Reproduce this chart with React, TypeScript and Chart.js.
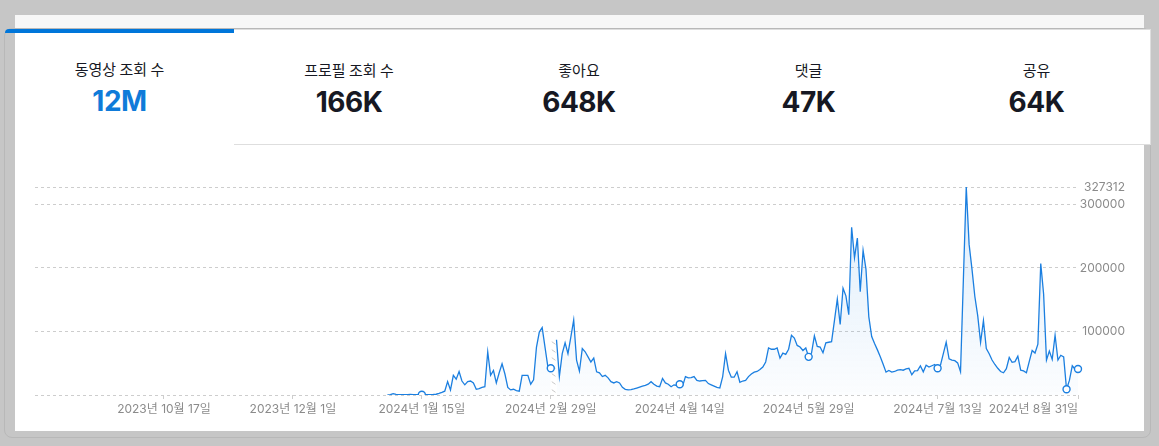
import React, { useEffect, useRef } from 'react';
import { Chart, registerables } from 'chart.js';

Chart.register(...registerables);

// ---------- data ----------
const startDate = [2023, 9, 2]; // first day on the x axis
const dayCount = 365; // 2023-09-02 .. 2024-08-31
const daysWithoutData = 123; // before 2024-01-03 there is no series

// daily video views, 2024-01-03 .. 2024-08-31 (null = missing day)
const observedViews: (number | null)[] = [
  0, 500, 2000, 1000, 600, 700, 500,
  600, 800, 700, 600, 500, 500, 600, 500, 700, 800,
  1200, 2500, 4000, 6000, 21000, 8000, 31000, 25000, 37000, 22000,
  16000, 21000, 22000, 19000, 9000, 10000, 12000, 13000, 68000, 31000,
  38500, 19000, 35000, 49000, 33000, 12000, 8000, 9000, 7000, 6000,
  31000, 31000, 31000, 17000, 24000, 75000, 99000, 106000, 75000, 44000,
  42000, null, 87000, 29000, 65000, 82000, 65000, 91000, 118000, 55000,
  37500, 73000, 68000, 60000, 52000, 58000, 36500, 35000, 29000, 31000,
  27000, 21000, 19000, 21000, 19000, 12000, 9000, 8000, 8500, 9500,
  11000, 12500, 14000, 15000, 17000, 21000, 17000, 14000, 13000, 26000,
  19000, 17000, 13000, 16000, 15000, 17000, 14000, 29000, 27000, 27500,
  29000, 23000, 22000, 22500, 23000, 18000, 16000, 14000, 12000, 11000,
  29000, 65000, 39000, 28000, 28000, 36500, 20000, 22000, 23000, 29000,
  33000, 36000, 37000, 40000, 44000, 52000, 74000, 72000, 72000, 74000,
  58000, 66000, 64000, 72000, 94000, 89500, 78000, 75500, 70000, 74000,
  60000, 66000, 93000, 76500, 75500, 66500, 82000, 83000, 84000, 117000,
  151000, 111000, 168000, 156000, 126500, 264000, 216000, 247000, 162500, 227500,
  198000, 123000, 92000, 81000, 71000, 60000, 48500, 36000, 38500, 36000,
  37000, 39000, 40000, 39000, 41000, 42000, 32000, 38000, 38500, 46000,
  36500, 47000, 44000, 46000, 48000, 42000, 47000, 65000, 83000, 57000,
  55000, 54000, 50500, 36500, 182000, 327312, 237000, 198000, 155000, 125000,
  83000, 117000, 73000, 65000, 55000, 48000, 42000, 37000, 35000, 41500,
  59000, 51500, 52500, 61000, 39000, 38000, 35000, 53000, 70000, 66000,
  80000, 207000, 159000, 55000, 69000, 56000, 94000, 55000, 62500, 60000,
  9000, 23000, 46000, 40500, 41000,
];

const tabTitles = ['동영상 조회 수', '프로필 조회 수', '좋아요', '댓글', '공유'];
const tabValues = ['12M', '166K', '648K', '47K', '64K'];
const yTickValues = [0, 100000, 200000, 300000];
const tickEveryDays = 45;

// ---------- helpers ----------
function buildDateLabels(): string[] {
  const out: string[] = [];
  const d0 = new Date(startDate[0], startDate[1] - 1, startDate[2]);
  for (let i = 0; i < dayCount; i++) {
    const d = new Date(d0.getFullYear(), d0.getMonth(), d0.getDate() + i);
    out.push(`${d.getFullYear()}년 ${d.getMonth() + 1}월 ${d.getDate()}일`);
  }
  return out;
}

const dateLabels = buildDateLabels();
const views: (number | null)[] = [
  ...new Array(daysWithoutData).fill(null),
  ...observedViews,
];
const maxViews = Math.max(...(views.filter((v) => v != null) as number[]));

const LINE = '#1b7fe0';
const GRID = '#cdcdcd';
const TICK_TEXT = '#8b8b8b';
const FONT = "Inter, 'Noto Sans CJK KR', sans-serif";

const gapHatch = {
  id: 'gapHatch',
  beforeDatasetsDraw(chart: any) {
    const data = chart.data.datasets[0].data as (number | null)[];
    const xs = chart.scales.x;
    const ys = chart.scales.y;
    const ctx = chart.ctx as CanvasRenderingContext2D;
    for (let i = 1; i < data.length - 1; i++) {
      const a = data[i - 1];
      const b = data[i + 1];
      if (data[i] == null && a != null && b != null) {
        const x0 = xs.getPixelForValue(i - 1);
        const x1 = xs.getPixelForValue(i + 1);
        const top = ys.getPixelForValue(Math.max(a, b));
        const bottom = ys.getPixelForValue(0);
        ctx.save();
        ctx.beginPath();
        ctx.rect(x0 + 1, top, x1 - x0 - 2, bottom - top);
        ctx.clip();
        ctx.strokeStyle = '#c9c9c9';
        ctx.lineWidth = 1;
        for (let yy = bottom; yy > top - 8; yy -= 8) {
          ctx.beginPath();
          ctx.moveTo(x0, yy - 6);
          ctx.lineTo(x1, yy - 2);
          ctx.stroke();
        }
        ctx.restore();
      }
    }
  },
};

function isMarker(i: number): boolean {
  if (views[i] == null) return false;
  return i % tickEveryDays === 0 || i === views.length - 1;
}

function ViewsChart() {
  const ref = useRef<HTMLCanvasElement | null>(null);
  useEffect(() => {
    if (!ref.current) return;
    const last = dateLabels.length - 1;
    const chart = new Chart(ref.current, {
      type: 'line',
      data: {
        labels: dateLabels,
        datasets: [
          {
            data: views,
            borderColor: LINE,
            borderWidth: 1.3,
            tension: 0,
            spanGaps: false,
            fill: 'origin',
            backgroundColor: (c: any) => {
              const area = c.chart.chartArea;
              if (!area) return 'rgba(27,127,224,0.06)';
              const g = c.chart.ctx.createLinearGradient(0, area.top, 0, area.bottom);
              g.addColorStop(0, 'rgba(27,127,224,0.15)');
              g.addColorStop(1, 'rgba(27,127,224,0.015)');
              return g;
            },
            pointRadius: (c: any) => (isMarker(c.dataIndex) ? 3.5 : 0),
            pointHoverRadius: 0,
            pointBackgroundColor: '#ffffff',
            pointBorderColor: LINE,
            pointBorderWidth: 1.4,
          },
        ],
      },
      options: {
        animation: false,
        responsive: false,
        maintainAspectRatio: false,
        events: [],
        layout: { padding: { left: 20, right: 19, top: 37, bottom: 0 } },
        plugins: { legend: { display: false }, tooltip: { enabled: false } },
        scales: {
          x: {
            type: 'category',
            offset: false,
            grid: {
              drawOnChartArea: false,
              drawTicks: true,
              tickLength: 4,
              color: (c: any) => (c.index === 0 ? 'rgba(0,0,0,0)' : GRID),
            },
            border: { display: false },
            ticks: {
              autoSkip: false,
              maxRotation: 0,
              minRotation: 0,
              align: 'inner',
              padding: 3,
              color: TICK_TEXT,
              font: { family: FONT, size: 12 },
              callback: function (this: any, value: any) {
                return value === 0 ? '' : this.getLabelForValue(value);
              },
            },
            afterBuildTicks: (scale: any) => {
              const idx: number[] = [0];
              for (let i = tickEveryDays; i < last - 10; i += tickEveryDays) idx.push(i);
              idx.push(last);
              scale.ticks = idx.map((v) => ({ value: v }));
            },
            afterFit: (scale: any) => {
              scale.height = 30;
            },
          },
          y: {
            position: 'right',
            min: 0,
            max: maxViews,
            grid: { drawTicks: false, color: GRID, lineWidth: 1 },
            border: { display: false, dash: [3, 3] },
            ticks: {
              crossAlign: 'far',
              padding: 2,
              color: TICK_TEXT,
              font: { family: FONT, size: 12 },
              callback: (value: any) => (value === 0 ? '' : String(value)),
            },
            afterBuildTicks: (scale: any) => {
              scale.ticks = [...yTickValues, maxViews].map((v) => ({ value: v }));
            },
            afterFit: (scale: any) => {
              scale.width = 47;
            },
          },
        },
      } as any,
      plugins: [gapHatch],
    });
    return () => chart.destroy();
  }, []);
  return (
    <canvas
      ref={ref}
      width={1129}
      height={275}
      style={{ position: 'absolute', left: 15, top: 150, width: 1129, height: 275 }}
    />
  );
}

const tabEdges = [5, 234, 464, 694, 923, 1150];

export default function App() {
  useEffect(() => {
    document.body.style.margin = '0';
  }, []);
  return (
    <div
      style={{
        position: 'fixed',
        left: 0,
        top: 0,
        width: 1159,
        height: 446,
        background: '#c6c6c6',
        overflow: 'hidden',
        fontFamily: "'Noto Sans CJK KR', sans-serif",
      }}
    >
      {/* page panel */}
      <div style={{ position: 'absolute', left: 15, top: 15, width: 1129, height: 416, background: '#ffffff' }} />
      <div style={{ position: 'absolute', left: 15, top: 15, width: 1129, height: 14, background: '#f7f7f7' }} />
      {/* card outline */}
      <div
        style={{
          position: 'absolute',
          left: 4,
          top: 28,
          width: 1147,
          height: 410,
          border: '1px solid #b8b8b8',
          borderRadius: 8,
          boxSizing: 'border-box',
        }}
      />
      {/* tabs */}
      {tabTitles.map((t, i) => {
        const left = tabEdges[i];
        const width = tabEdges[i + 1] - tabEdges[i];
        const active = i === 0;
        return (
          <div
            key={t}
            style={{
              position: 'absolute',
              left,
              top: 29,
              width: width + 1,
              height: 116,
              boxSizing: 'border-box',
              background: active ? 'transparent' : '#ffffff',
              borderRight: '1px solid #dedede',
              borderTop: active ? 'none' : '1px solid #dedede',
              borderBottom: active ? 'none' : '1px solid #dedede',
            }}
          >
            {active && (
              <div
                style={{
                  position: 'absolute',
                  left: 0,
                  top: 0,
                  width: width,
                  height: 4,
                  background: '#0076da',
                  borderTopLeftRadius: 6,
                }}
              />
            )}
            <div
              style={{
                position: 'absolute',
                left: 0,
                right: 0,
                top: 30,
                textAlign: 'center',
                fontSize: 15,
                lineHeight: '20px',
                color: '#161823',
              }}
            >
              {t}
            </div>
            <div
              style={{
                position: 'absolute',
                left: 0,
                right: 0,
                top: 56,
                textAlign: 'center',
                fontFamily: "Inter, sans-serif",
                fontWeight: 700,
                fontSize: 28,
                lineHeight: '32px',
                letterSpacing: -0.5,
                color: active ? '#0f7bd9' : '#161823',
              }}
            >
              {tabValues[i]}
            </div>
          </div>
        );
      })}
      <ViewsChart />
    </div>
  );
}
